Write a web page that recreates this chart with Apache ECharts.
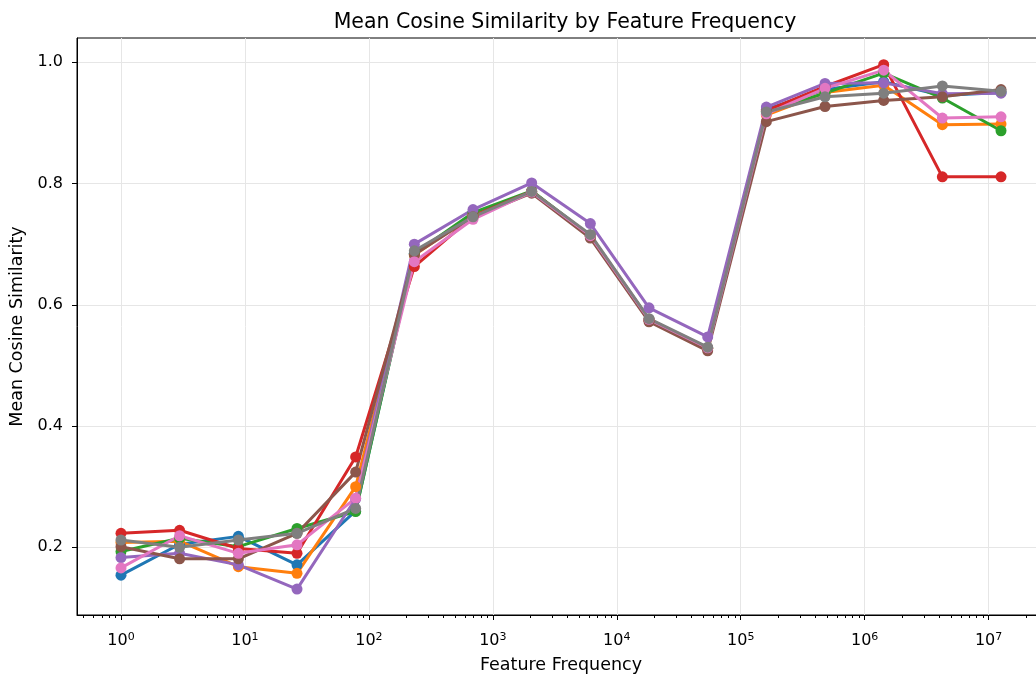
<!DOCTYPE html>
<html>
<head>
<meta charset="utf-8">
<script src="https://cdn.jsdelivr.net/npm/echarts@6/dist/echarts.min.js"></script>
<style>
  html, body { margin: 0; padding: 0; background: #fff; overflow: hidden; }
  #chart { width: 1060px; height: 679px; }
</style>
</head>
<body>
<div id="chart"></div>
<script>
// feature frequency bins (x)
const freqs = [1, 2.97, 8.85, 26.3, 78.2, 232.6, 691.8, 2057, 6118, 18197, 54117, 160950, 478680, 1423600, 4233900, 12589000];

// mean cosine similarity per series
const blue   = [0.154, 0.205, 0.218, 0.171, 0.260, 0.685, 0.748, 0.786, 0.713, 0.575, 0.528, 0.922, 0.955, 0.968, 0.945, 0.950];
const orange = [0.208, 0.210, 0.168, 0.157, 0.300, 0.682, 0.748, 0.786, 0.713, 0.575, 0.528, 0.913, 0.950, 0.962, 0.897, 0.898];
const green  = [0.193, 0.215, 0.201, 0.231, 0.259, 0.684, 0.752, 0.788, 0.714, 0.576, 0.529, 0.918, 0.949, 0.982, 0.941, 0.887];
const red    = [0.223, 0.228, 0.198, 0.190, 0.349, 0.663, 0.746, 0.787, 0.714, 0.575, 0.528, 0.920, 0.960, 0.996, 0.811, 0.811];
const purple = [0.183, 0.190, 0.171, 0.131, 0.280, 0.700, 0.757, 0.801, 0.734, 0.595, 0.547, 0.926, 0.965, 0.966, 0.948, 0.949];
const brown  = [0.201, 0.181, 0.181, 0.223, 0.324, 0.683, 0.745, 0.784, 0.710, 0.572, 0.524, 0.902, 0.927, 0.937, 0.943, 0.955];
const pink   = [0.166, 0.219, 0.190, 0.204, 0.281, 0.671, 0.741, 0.786, 0.714, 0.576, 0.529, 0.915, 0.957, 0.987, 0.908, 0.910];
const gray   = [0.212, 0.200, 0.212, 0.223, 0.264, 0.689, 0.745, 0.787, 0.716, 0.577, 0.530, 0.918, 0.943, 0.949, 0.961, 0.952];

const seriesList = [
  { name: "s0", data: blue, color: "#1f77b4" },
  { name: "s1", data: orange, color: "#ff7f0e" },
  { name: "s2", data: green, color: "#2ca02c" },
  { name: "s3", data: red, color: "#d62728" },
  { name: "s4", data: purple, color: "#9467bd" },
  { name: "s5", data: brown, color: "#8c564b" },
  { name: "s6", data: pink, color: "#e377c2" },
  { name: "s7", data: gray, color: "#7f7f7f" },
];

// axis ticks
const majorTicksX = [1, 10, 100, 1000, 10000, 100000, 1000000, 10000000];
const minorTicksX = [0.5, 0.6, 0.7, 0.8, 0.9,
  2, 3, 4, 5, 6, 7, 8, 9,
  20, 30, 40, 50, 60, 70, 80, 90,
  200, 300, 400, 500, 600, 700, 800, 900,
  2000, 3000, 4000, 5000, 6000, 7000, 8000, 9000,
  20000, 30000, 40000, 50000, 60000, 70000, 80000, 90000,
  200000, 300000, 400000, 500000, 600000, 700000, 800000, 900000,
  2000000, 3000000, 4000000, 5000000, 6000000, 7000000, 8000000, 9000000,
  20000000];
const ticksY = [0.2, 0.4, 0.6, 0.8, 1.0];

const font = "DejaVu Sans";
let chart = echarts.init(document.querySelector("#chart"), null, { renderer: "canvas" });

let option = {
  animation: false,
  backgroundColor: "#fff",
  title: {
    text: "Mean Cosine Similarity by Feature Frequency",
    left: 560,
    textAlign: "center",
    top: 7,
    textStyle: { fontFamily: font, fontSize: 20.5, fontWeight: "normal", color: "#000" },
  },
  grid: {
    left: 77,
    top: 38,
    width: 968,
    height: 577,
    show: true,
    borderColor: "#000",
    borderWidth: 1,
    containLabel: false,
  },
  xAxis: [
    {
      type: "log",
      logBase: 10,
      min: 0.4416,
      max: 28500000,
      position: "bottom",
      name: "Feature Frequency",
      nameLocation: "middle",
      nameGap: 41,
      nameTextStyle: { fontFamily: font, fontSize: 17.5, color: "#000" },
      axisLine: { show: true, onZero: false, lineStyle: { color: "#000", width: 1 } },
      axisTick: { show: true, length: 5, customValues: majorTicksX, lineStyle: { color: "#000" } },
      axisLabel: {
        customValues: majorTicksX,
        margin: 17,
        formatter: (v) => "{b|10}{s|" + Math.round(Math.log10(v)) + "}",
        rich: {
          b: { fontFamily: font, fontSize: 16, color: "#000" },
          s: { fontFamily: font, fontSize: 11, color: "#000", padding: [0, 0, 7, 0] },
        },
      },
      splitLine: { show: true, lineStyle: { color: "#e6e6e6", width: 1 } },
    },
    {
      type: "log",
      logBase: 10,
      min: 0.4416,
      max: 28500000,
      position: "bottom",
      offset: 0,
      axisLine: { show: false },
      axisTick: { show: true, length: 3, customValues: minorTicksX, lineStyle: { color: "#000" } },
      axisLabel: { show: false },
      splitLine: { show: false },
    },
  ],
  yAxis: {
    type: "value",
    min: 0.0883,
    max: 1.04,
    name: "Mean Cosine Similarity",
    nameLocation: "middle",
    nameGap: 49,
    nameTextStyle: { fontFamily: font, fontSize: 17.5, color: "#000" },
    axisLine: { show: true, lineStyle: { color: "#000", width: 1 } },
    axisTick: { show: true, length: 5, customValues: ticksY, lineStyle: { color: "#000" } },
    axisLabel: {
      customValues: ticksY,
      margin: 14,
      fontFamily: font,
      fontSize: 16,
      color: "#000",
      formatter: (v) => v.toFixed(1),
    },
    splitLine: { show: true, lineStyle: { color: "#e6e6e6", width: 1 } },
  },
  series: seriesList.map((s) => ({
    name: s.name,
    type: "line",
    xAxisIndex: 0,
    data: freqs.map((f, i) => [f, s.data[i]]),
    symbol: "circle",
    symbolSize: 11,
    showSymbol: true,
    lineStyle: { color: s.color, width: 3 },
    itemStyle: { color: s.color },
    emphasis: { disabled: true },
  })),
};

chart.setOption(option);
</script>
</body>
</html>
